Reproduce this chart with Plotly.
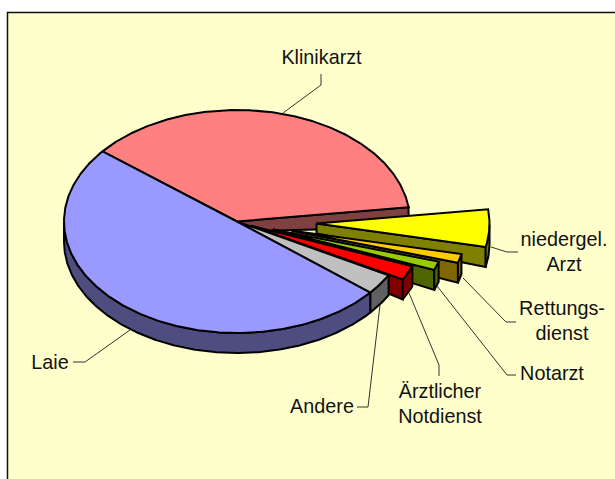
import numpy as np
import plotly.graph_objects as go

# Data (share of the pie, percent), clockwise from the Klinikarzt slice
categories = ["Klinikarzt", "niedergel. Arzt", "Rettungsdienst", "Notarzt",
              "Ärztlicher Notdienst", "Andere", "Laie"]
values = [37.1, 5.4, 1.3, 1.25, 2.1, 3.0, 49.8]
explode = [0.0, 0.46, 0.33, 0.22, 0.09, 0.0, 0.0]
top_colors = ["#FF8080", "#FFFF00", "#FFCC00", "#99CC00", "#FF0000", "#C0C0C0", "#9999FF"]
side_colors = ["#804040", "#808000", "#806600", "#4D6600", "#800000", "#606060", "#4D4D80"]

# Pie geometry in the pixel-like axis space
START = 141.0
CX, CY, RX, RY = 237.0, 221.5, 173.0, 111.5
DEPTH, APEX_DEPTH = 20.0, 10.0

fig = go.Figure()


def poly(xs, ys, color):
    fig.add_trace(go.Scatter(x=list(xs), y=list(ys), mode="lines", fill="toself", fillcolor=color,
                             line=dict(color="#000000", width=2), hoverinfo="skip", showlegend=False))


total = sum(values)
angle = START
for i, v in enumerate(values):
    a0 = angle
    a1 = angle - v / total * 360.0
    angle = a1
    mid = np.radians((a0 + a1) / 2)
    ax = CX + explode[i] * RX * np.cos(mid)
    ay = CY - explode[i] * RY * np.sin(mid)
    t = np.radians(np.linspace(a0, a1, max(int(abs(a0 - a1) * 2), 4)))
    ox = ax + RX * np.cos(t)
    oy = ay - RY * np.sin(t)
    # radial cut face on the clockwise end, only when it faces the viewer
    if np.cos(t[-1]) > 0:
        poly([ax, ox[-1], ox[-1], ax, ax],
             [ay, oy[-1], oy[-1] + DEPTH, ay + APEX_DEPTH, ay], side_colors[i])
    # outer wall, front half only
    front = np.sin(t) < 0
    if front.sum() > 1:
        fx, fy = ox[front], oy[front]
        poly(np.r_[fx, fx[::-1], fx[0]], np.r_[fy, fy[::-1] + DEPTH, fy[0]], side_colors[i])
    # top
    poly(np.r_[ax, ox, ax], np.r_[ay, oy, ay], top_colors[i])

# Leader lines
leaders = [
    ([283, 113], [321, 85], [321, 74]),
    ([491, 247], [507, 252], [518, 252]),
    ([463, 278], [506, 322], [516, 322]),
    ([437, 286], [507, 375], [516, 375]),
    ([409, 293], [439, 365], [439, 376]),
    ([380, 305], [368, 407], [357, 407]),
    ([130, 330], [85, 362], [73, 362]),
]
for pts in leaders:
    fig.add_trace(go.Scatter(x=[p[0] for p in pts], y=[p[1] for p in pts], mode="lines",
                             line=dict(color="#333333", width=1), hoverinfo="skip", showlegend=False))

# Labels
label_text = ["Klinikarzt", "niedergel.", "Arzt", "Rettungs-", "dienst", "Notarzt",
              "Ärztlicher", "Notdienst", "Andere", "Laie"]
label_x = [321.5, 564, 564, 562, 562, 552, 440, 440, 322, 50]
label_y = [59.5, 241.5, 266.5, 310.5, 335.5, 375.5, 393.5, 418.5, 408.5, 364.5]
fig.add_trace(go.Scatter(x=label_x, y=label_y, mode="text", text=label_text, textposition="middle center",
                         textfont=dict(family="Liberation Sans", size=19.8, color="#111111"),
                         hoverinfo="skip", showlegend=False))

fig.update_layout(
    width=615, height=479, autosize=False,
    margin=dict(l=0, r=0, t=0, b=0),
    paper_bgcolor="#FFFFFF", plot_bgcolor="#FFFFFF",
    xaxis=dict(range=[0, 615], visible=False, fixedrange=True),
    yaxis=dict(range=[479, 0], visible=False, fixedrange=True),
    shapes=[dict(type="rect", xref="x", yref="y", x0=7.5, y0=12.5, x1=640, y1=500, layer="below",
                 fillcolor="#FFFFCC", line=dict(color="#111111", width=1.5))],
)
fig.write_html("out.html", config={"displayModeBar": False},
               post_script="document.body.style.margin='0';document.documentElement.style.overflow='hidden';")
